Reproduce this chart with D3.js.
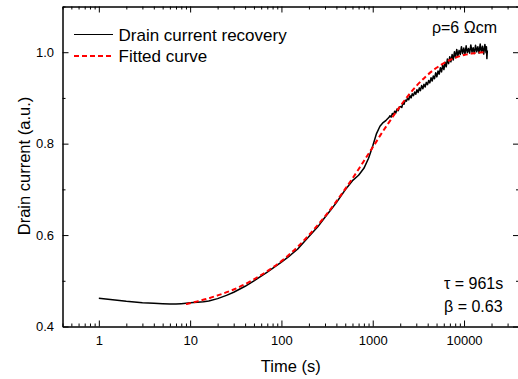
<!DOCTYPE html>
<html>
<head>
<meta charset="utf-8">
<script src="https://cdn.jsdelivr.net/npm/d3@7"></script>
<style>
  html, body { margin: 0; padding: 0; background: #fff; }
  svg { display: block; font-family: "Liberation Sans", Arial, sans-serif; }
</style>
</head>
<body>
<svg id="chart" width="518" height="379"></svg>
<script>
// ---------------- data ----------------
const measuredTime = [1,1.5,2,3,4,5,6,7,8,9,10,12,14,16,20,25,30,40,50,60,70,80,100,120,150,200,250,300,350,400,450,500,600,700,800,900,1000,1100,1200,1300,1400,
  1500,1545,1590,1640,1690,1740,1790,1845,1900,1960,2020,2080,2140,2200,2270,2340,2410,2480,2560,2630,2710,2790,2880,2960,3050,3140,3240,3330,3430,3540,3640,3750,3860,3980,4100,4220,4350,4480,4610,4750,4890,5040,5190,5350,5510,5670,5840,6020,6200,6380,6570,6770,6970,7180,7400,7620,7850,8080,8320,8570,8830,9100,9370,9650,9940,10240,10550,10860,11190,11520,11870,12220,12590,12970,13360,13760,14170,14600,15030,15480,15950,16430,16920,17430,17600,17800,18000];
const measuredCurrent = [0.462,0.458,0.455,0.452,0.451,0.450,0.449,0.449,0.450,0.451,0.452,0.453,0.454,0.456,0.461,0.468,0.475,0.488,0.500,0.510,0.519,0.527,0.541,0.553,0.569,0.597,0.618,0.639,0.656,0.671,0.686,0.699,0.719,0.731,0.746,0.768,0.795,0.822,0.838,0.846,0.851,
  0.857,0.861,0.858,0.866,0.863,0.871,0.867,0.876,0.872,0.880,0.881,0.879,0.889,0.886,0.895,0.893,0.900,0.896,0.905,0.900,0.909,0.905,0.913,0.908,0.918,0.912,0.922,0.916,0.927,0.920,0.930,0.924,0.934,0.929,0.938,0.933,0.944,0.937,0.948,0.942,0.955,0.946,0.959,0.952,0.966,0.957,0.972,0.962,0.978,0.968,0.985,0.975,0.990,0.979,0.995,0.983,1.001,0.988,1.006,0.992,1.004,0.995,1.012,0.997,1.009,0.996,1.014,0.999,1.008,0.998,1.016,1.000,1.010,0.997,1.015,1.001,1.012,0.998,1.018,1.000,1.013,0.996,1.017,0.999,1.012,0.986,1.004];

const fitTime = [9,12,15,20,30,50,70,100,150,200,300,500,700,800,900,1000,1100,1200,1500,2000,3000,5000,7000,10000,12000,14000,17000];
const fitCurrent = [0.449,0.455,0.460,0.468,0.481,0.503,0.521,0.543,0.574,0.600,0.641,0.701,0.744,0.762,0.778,0.792,0.805,0.817,0.846,0.882,0.926,0.966,0.983,0.994,0.997,0.999,1.000];

const seriesNames = ["Drain current recovery", "Fitted curve"];
const xMajorTicks = [1, 10, 100, 1000, 10000];
const xMajorLabels = ["1", "10", "100", "1000", "10000"];
const yMajorTicks = [0.4, 0.6, 0.8, 1.0];
const yMajorLabels = ["0.4", "0.6", "0.8", "1.0"];
const yMinorTicks = [0.5, 0.7, 0.9, 1.1];
const xMinorMultipliers = [2, 3, 4, 5, 6, 7, 8, 9];
const xMinorDecades = [0.1, 1, 10, 100, 1000, 10000];
const xTitle = "Time (s)";
const yTitle = "Drain current (a.u.)";
const annotRho = "ρ=6 Ωcm";
const annotTau = "τ = 961s";
const annotBeta = "β = 0.63";

// ---------------- layout ----------------
const svg = d3.select("#chart");
const L = 62.5, R = 519, T = 6.5, B = 326.5;
const x = d3.scaleLog().domain([0.4, 40000]).range([L, R]);
const y = d3.scaleLinear().domain([0.4, 1.1]).range([B, T]);

const xMinorTicks = [];
xMinorDecades.forEach(d => xMinorMultipliers.forEach(m => {
  const v = +(d * m).toPrecision(3);
  if (v >= 0.4 && v <= 40000) xMinorTicks.push(v);
}));

function styleAxis(g) {
  g.selectAll("path.domain").attr("stroke", "#000").attr("stroke-width", 1);
  g.selectAll(".tick line").attr("stroke", "#000").attr("stroke-width", 1);
  g.selectAll(".tick text").attr("fill", "#000")
    .style("font-family", '"Liberation Sans", Arial, sans-serif').style("font-size", "13px");
}

// bottom axis
svg.append("g").attr("transform", `translate(0,${B})`)
  .call(d3.axisBottom(x).tickValues(xMajorTicks).tickSizeInner(-6).tickSizeOuter(0).tickPadding(9.3)
    .tickFormat((d, i) => xMajorLabels[i]))
  .call(styleAxis);
svg.append("g").attr("transform", `translate(0,${B})`)
  .call(d3.axisBottom(x).tickValues(xMinorTicks).tickSizeInner(-3).tickSizeOuter(0).tickFormat(""))
  .call(styleAxis);
// top axis
svg.append("g").attr("transform", `translate(0,${T})`)
  .call(d3.axisTop(x).tickValues(xMajorTicks).tickSizeInner(-6).tickSizeOuter(0).tickFormat(""))
  .call(styleAxis);
svg.append("g").attr("transform", `translate(0,${T})`)
  .call(d3.axisTop(x).tickValues(xMinorTicks).tickSizeInner(-3).tickSizeOuter(0).tickFormat(""))
  .call(styleAxis);
// left axis
svg.append("g").attr("transform", `translate(${L},0)`)
  .call(d3.axisLeft(y).tickValues(yMajorTicks).tickSizeInner(-6).tickSizeOuter(0).tickPadding(8.5)
    .tickFormat((d, i) => yMajorLabels[i]))
  .call(styleAxis);
svg.append("g").attr("transform", `translate(${L},0)`)
  .call(d3.axisLeft(y).tickValues(yMinorTicks).tickSizeInner(-3).tickSizeOuter(0).tickFormat(""))
  .call(styleAxis);
// right axis
svg.append("g").attr("transform", `translate(${R},0)`)
  .call(d3.axisRight(y).tickValues(yMajorTicks).tickSizeInner(-6).tickSizeOuter(0).tickFormat(""))
  .call(styleAxis);
svg.append("g").attr("transform", `translate(${R},0)`)
  .call(d3.axisRight(y).tickValues(yMinorTicks).tickSizeInner(-3).tickSizeOuter(0).tickFormat(""))
  .call(styleAxis);

// ---------------- lines ----------------
const measured = measuredTime.map((t, i) => [t, measuredCurrent[i]]);
const fitted = fitTime.map((t, i) => [t, fitCurrent[i]]);

svg.append("path").datum(measured)
  .attr("fill", "none").attr("stroke", "#000").attr("stroke-width", 1.5).attr("stroke-linejoin", "round")
  .attr("d", d3.line().x(d => x(d[0])).y(d => y(d[1])));

svg.append("path").datum(fitted)
  .attr("fill", "none").attr("stroke", "#ff0000").attr("stroke-width", 2).attr("stroke-dasharray", "5,3")
  .attr("d", d3.line().curve(d3.curveMonotoneX).x(d => x(d[0])).y(d => y(d[1])));

// ---------------- legend ----------------
const leg = svg.append("g");
leg.append("line").attr("x1", 74).attr("x2", 113).attr("y1", 34.5).attr("y2", 34.5)
  .attr("stroke", "#000").attr("stroke-width", 1);
leg.append("text").attr("x", 118.5).attr("y", 40.5).style("font-size", "17px").text(seriesNames[0]);
leg.append("line").attr("x1", 74).attr("x2", 113).attr("y1", 56).attr("y2", 56)
  .attr("stroke", "#ff0000").attr("stroke-width", 2).attr("stroke-dasharray", "5,3");
leg.append("text").attr("x", 118.5).attr("y", 61.7).style("font-size", "17px").text(seriesNames[1]);

// ---------------- annotations ----------------
svg.append("text").attr("x", 497).attr("y", 33.3).attr("text-anchor", "end").style("font-size", "16px").text(annotRho);
svg.append("text").attr("x", 444).attr("y", 289.3).style("font-size", "16px").text(annotTau);
svg.append("text").attr("x", 444).attr("y", 311.7).style("font-size", "16px").text(annotBeta);

// ---------------- titles ----------------
svg.append("text").attr("x", (L + R) / 2).attr("y", 371.7).attr("text-anchor", "middle")
  .style("font-size", "16.5px").text(xTitle);
svg.append("text").attr("transform", "translate(29.7,166) rotate(-90)").attr("text-anchor", "middle")
  .style("font-size", "16.5px").text(yTitle);
</script>
</body>
</html>
